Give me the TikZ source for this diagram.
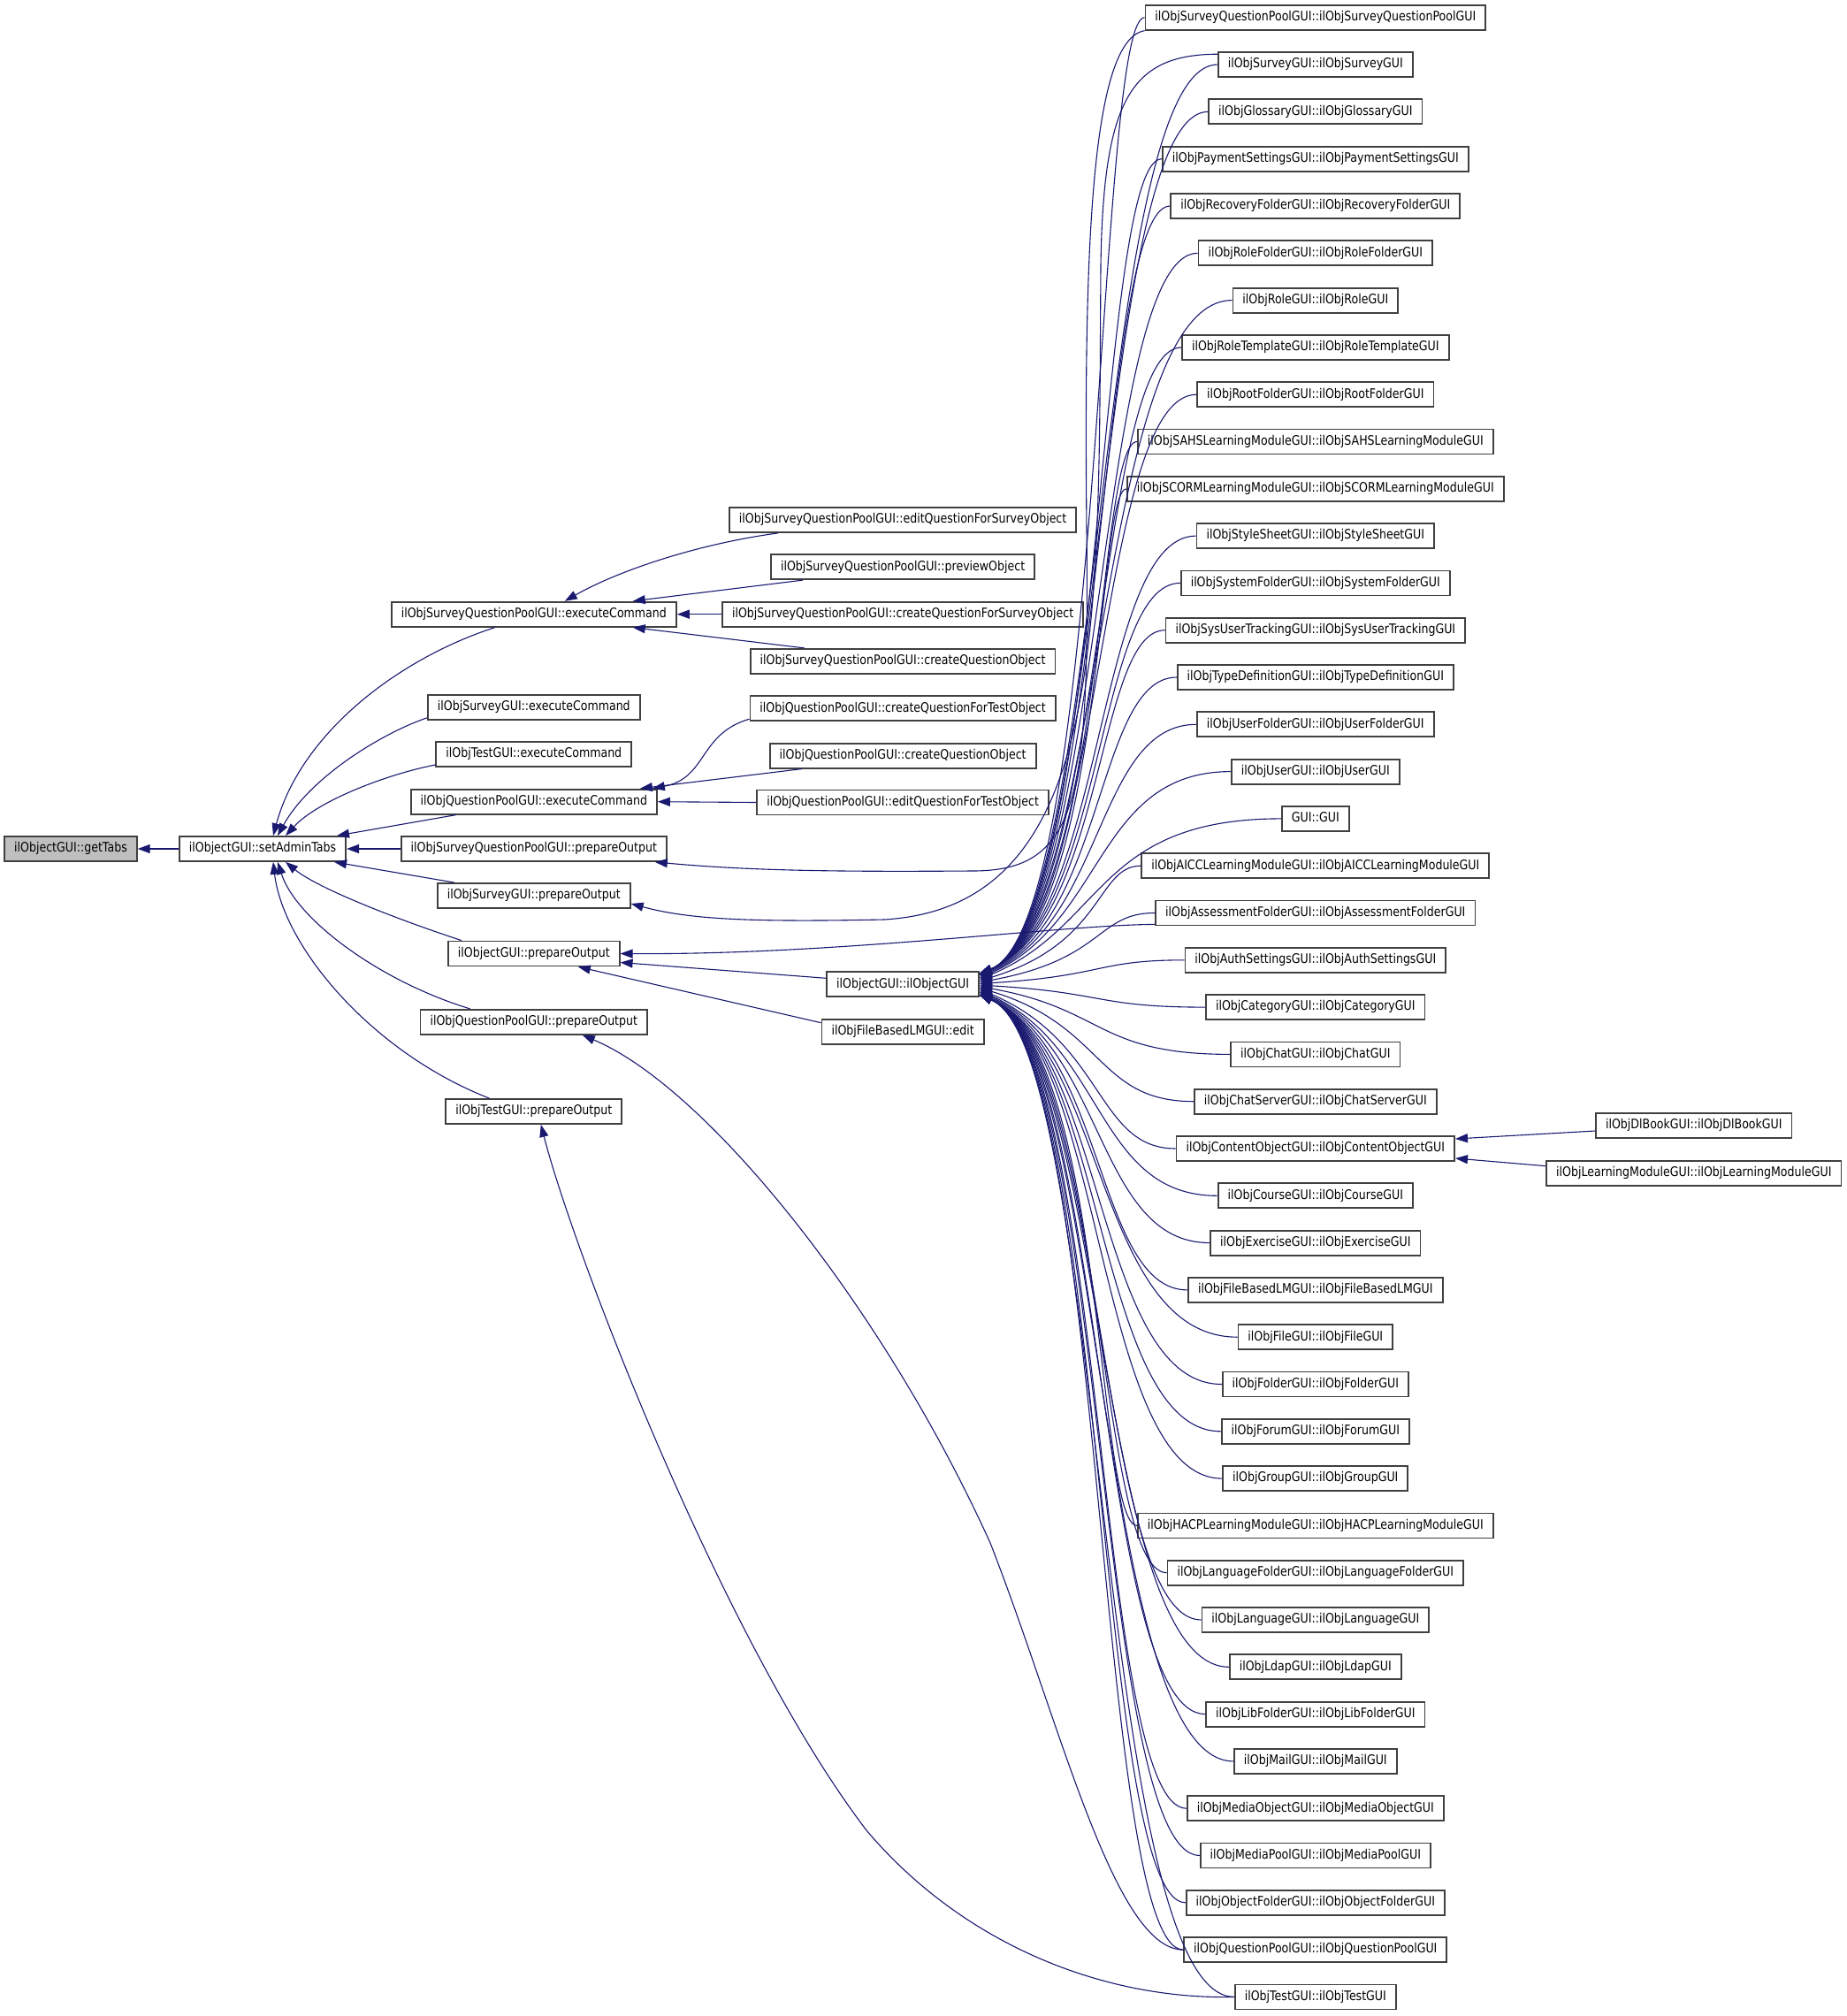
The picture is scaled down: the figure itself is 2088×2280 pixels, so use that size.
\documentclass[tikz,border=0pt]{standalone}
\usepackage{fontspec}
\setmainfont{DejaVu Sans}[FakeStretch=0.85]
\usetikzlibrary{arrows.meta,calc}
\definecolor{edgecol}{HTML}{191970}
\definecolor{boxcol}{HTML}{404040}
\begin{document}
\begin{tikzpicture}[x=0.5pt,y=-0.5pt,
  box/.style={draw=boxcol,line width=0.9pt,fill=white,inner xsep=5.5pt,inner ysep=0pt,
    minimum height=14pt,text height=5.6pt,text depth=1.75pt,
    font=\fontsize{7.4pt}{8pt}\selectfont},
  edge/.style={draw=edgecol,line width=0.55pt,-{Triangle[length=7pt,width=5pt]}}]
\useasboundingbox (0,0) rectangle (2088,2280);

% left and middle columns
\node[box,fill=black!25] (gt) at (80,960) {ilObjectGUI::getTabs};
\node[box] (sat) at (297,960) {ilObjectGUI::setAdminTabs};
\node[box] (sqpEC) at (603.8,694.7) {ilObjSurveyQuestionPoolGUI::executeCommand};
\node[box] (svEC) at (603.8,799.8) {ilObjSurveyGUI::executeCommand};
\node[box] (tEC) at (603.8,853) {ilObjTestGUI::executeCommand};
\node[box] (qpEC) at (603.8,906.7) {ilObjQuestionPoolGUI::executeCommand};
\node[box] (sqpPO) at (603.8,960) {ilObjSurveyQuestionPoolGUI::prepareOutput};
\node[box] (svPO) at (603.8,1013) {ilObjSurveyGUI::prepareOutput};
\node[box] (oPO) at (603.8,1078.5) {ilObjectGUI::prepareOutput};
\node[box] (qpPO) at (603.8,1155.8) {ilObjQuestionPoolGUI::prepareOutput};
\node[box] (tPO) at (603.8,1257) {ilObjTestGUI::prepareOutput};

% third column
\node[box] (eqfso) at (1021.1,588) {ilObjSurveyQuestionPoolGUI::editQuestionForSurveyObject};
\node[box] (prev) at (1021.1,641.2) {ilObjSurveyQuestionPoolGUI::previewObject};
\node[box] (cqfso) at (1021.1,694.7) {ilObjSurveyQuestionPoolGUI::createQuestionForSurveyObject};
\node[box] (cqo) at (1021.1,747.8) {ilObjSurveyQuestionPoolGUI::createQuestionObject};
\node[box] (qcqfto) at (1021.1,801.3) {ilObjQuestionPoolGUI::createQuestionForTestObject};
\node[box] (qcqo) at (1021.1,854.7) {ilObjQuestionPoolGUI::createQuestionObject};
\node[box] (qeqfto) at (1021.1,907.5) {ilObjQuestionPoolGUI::editQuestionForTestObject};
\node[box] (oc) at (1021.1,1113.3) {ilObjectGUI::ilObjectGUI};
\node[box] (edit) at (1021.1,1166.7) {ilObjFileBasedLMGUI::edit};

% right column
\foreach \rk/\rt in {
 1/ilObjSurveyQuestionPoolGUI::ilObjSurveyQuestionPoolGUI,
 2/ilObjSurveyGUI::ilObjSurveyGUI,
 3/ilObjGlossaryGUI::ilObjGlossaryGUI,
 4/ilObjPaymentSettingsGUI::ilObjPaymentSettingsGUI,
 5/ilObjRecoveryFolderGUI::ilObjRecoveryFolderGUI,
 6/ilObjRoleFolderGUI::ilObjRoleFolderGUI,
 7/ilObjRoleGUI::ilObjRoleGUI,
 8/ilObjRoleTemplateGUI::ilObjRoleTemplateGUI,
 9/ilObjRootFolderGUI::ilObjRootFolderGUI,
 10/ilObjSAHSLearningModuleGUI::ilObjSAHSLearningModuleGUI,
 11/ilObjSCORMLearningModuleGUI::ilObjSCORMLearningModuleGUI,
 12/ilObjStyleSheetGUI::ilObjStyleSheetGUI,
 13/ilObjSystemFolderGUI::ilObjSystemFolderGUI,
 14/ilObjSysUserTrackingGUI::ilObjSysUserTrackingGUI,
 15/ilObjTypeDefinitionGUI::ilObjTypeDefinitionGUI,
 16/ilObjUserFolderGUI::ilObjUserFolderGUI,
 17/ilObjUserGUI::ilObjUserGUI,
 18/GUI::GUI,
 19/ilObjAICCLearningModuleGUI::ilObjAICCLearningModuleGUI,
 20/ilObjAssessmentFolderGUI::ilObjAssessmentFolderGUI,
 21/ilObjAuthSettingsGUI::ilObjAuthSettingsGUI,
 22/ilObjCategoryGUI::ilObjCategoryGUI,
 23/ilObjChatGUI::ilObjChatGUI,
 24/ilObjChatServerGUI::ilObjChatServerGUI,
 25/ilObjContentObjectGUI::ilObjContentObjectGUI,
 26/ilObjCourseGUI::ilObjCourseGUI,
 27/ilObjExerciseGUI::ilObjExerciseGUI,
 28/ilObjFileBasedLMGUI::ilObjFileBasedLMGUI,
 29/ilObjFileGUI::ilObjFileGUI,
 30/ilObjFolderGUI::ilObjFolderGUI,
 31/ilObjForumGUI::ilObjForumGUI,
 32/ilObjGroupGUI::ilObjGroupGUI,
 33/ilObjHACPLearningModuleGUI::ilObjHACPLearningModuleGUI,
 34/ilObjLanguageFolderGUI::ilObjLanguageFolderGUI,
 35/ilObjLanguageGUI::ilObjLanguageGUI,
 36/ilObjLdapGUI::ilObjLdapGUI,
 37/ilObjLibFolderGUI::ilObjLibFolderGUI,
 38/ilObjMailGUI::ilObjMailGUI,
 39/ilObjMediaObjectGUI::ilObjMediaObjectGUI,
 40/ilObjMediaPoolGUI::ilObjMediaPoolGUI,
 41/ilObjObjectFolderGUI::ilObjObjectFolderGUI,
 42/ilObjQuestionPoolGUI::ilObjQuestionPoolGUI,
 43/ilObjTestGUI::ilObjTestGUI}
  \node[box] (r\rk) at (1487.8,{19.8+53.3*(\rk-1)}) {\rt};

% far right
\node[box] (dl) at (1915.8,1273) {ilObjDlBookGUI::ilObjDlBookGUI};
\node[box] (lm) at (1915.8,1326.7) {ilObjLearningModuleGUI::ilObjLearningModuleGUI};

% edges into getTabs / setAdminTabs
\draw[edge] (sat.west) -- (gt.east);
\draw[edge] ($(sqpEC.south)+(-44,0)$) .. controls (450,745) and (340,830) .. ($(sat.north)+(12,0)$);
\draw[edge] ($(svEC.west)+(0,12)$) .. controls (430,830) and (350,880) .. ($(sat.north)+(17,0)$);
\draw[edge] ($(tEC.west)+(0,12)$) .. controls (440,875) and (360,905) .. ($(sat.north)+(26,0)$);
\draw[edge] ($(qpEC.south west)+(52,0)$) -- ($(sat.north east)+(-11,0)$);
\draw[edge] (sqpPO.west) -- (sat.east);
\draw[edge] ($(svPO.north west)+(20,0)$) -- ($(sat.south east)+(-14,0)$);
\draw[edge] ($(oPO.north west)+(16,0)$) .. controls (450,1040) and (360,1005) .. ($(sat.south)+(26,0)$);
\draw[edge] ($(qpPO.north west)+(57,0)$) .. controls (430,1110) and (335,1040) .. ($(sat.south)+(17,0)$);
\draw[edge] ($(tPO.north west)+(50,0)$) .. controls (420,1190) and (320,1070) .. ($(sat.south)+(12,0)$);

% edges into executeCommand nodes
\draw[edge] ($(eqfso.south west)+(56,0)$) .. controls (790,615) and (700,645) .. ($(sqpEC.north)+(35,0)$);
\draw[edge] ($(prev.south west)+(37,0)$) -- ($(sqpEC.north east)+(-50,0)$);
\draw[edge] (cqfso.west) -- (sqpEC.east);
\draw[edge] ($(cqo.north west)+(62,0)$) -- ($(sqpEC.south east)+(-50,0)$);
\draw[edge] ($(qcqfto.south west)+(0,-3)$) .. controls (790,830) and (800,880) .. ($(qpEC.north east)+(-6,0)$);
\draw[edge] ($(qcqo.south west)+(37,0)$) -- ($(qpEC.north east)+(-20,0)$);
\draw[edge] (qeqfto.west) -- (qpEC.east);

% edges into prepareOutput nodes
\draw[edge] ($(oc.west)+(0,-7)$) -- ($(oPO.east)+(0,10)$);
\draw[edge] ($(edit.west)+(0,-10)$) -- ($(oPO.south)+(50,0)$);
\draw[edge] ($(r20.south west)+(0,-2)$) .. controls (1200,1046) and (950,1080) .. (oPO.east);
\draw[edge] (r1.south west) .. controls (1232,45) and (1226,300) .. (1229,600)
  .. controls (1232,900) and (1222,985) .. (1100,985)
  .. controls (950,986) and (850,985) .. ($(sqpPO.south east)+(-14,0)$);
\draw[edge] ($(r2.north west)+(0,3)$) .. controls (1280,62) and (1248,110) .. (1245,300)
  .. controls (1242,700) and (1255,1025) .. (1000,1040)
  .. controls (850,1043) and (780,1040) .. ($(svPO.east)+(0,9)$);
\draw[edge] (r42.west) .. controls (1260,2205) and (1200,1950) .. (1120,1745)
  .. controls (1000,1480) and (800,1230) .. ($(qpPO.south)+(55,0)$);
\draw[edge] (r43.west) .. controls (1250,2262) and (1090,2200) .. (980,2070)
  .. controls (820,1860) and (650,1420) .. ($(tPO.south)+(8,0)$);

% constructors into ilObjectGUI::ilObjectGUI
\foreach \rk in {1,...,43}{
  \pgfmathsetmacro\yy{19.8+53.3*(\rk-1)}
  \pgfmathsetmacro\cy{1113.3+max(-70,min(70,0.35*(\yy-1113.3)))}
  \pgfmathsetmacro\ty{max(-12,min(12,0.03*(\yy-1113.3)))}
  \draw[edge] (r\rk.west) .. controls (1240,\yy) and (1250,\cy) .. ($(oc.east)+(0,\ty)$);
}

% into ContentObject
\draw[edge] ($(dl.west)+(0,6)$) -- ($(r25.east)+(0,-11)$);
\draw[edge] ($(lm.west)+(0,-8)$) -- ($(r25.east)+(0,11)$);
\end{tikzpicture}
\end{document}
